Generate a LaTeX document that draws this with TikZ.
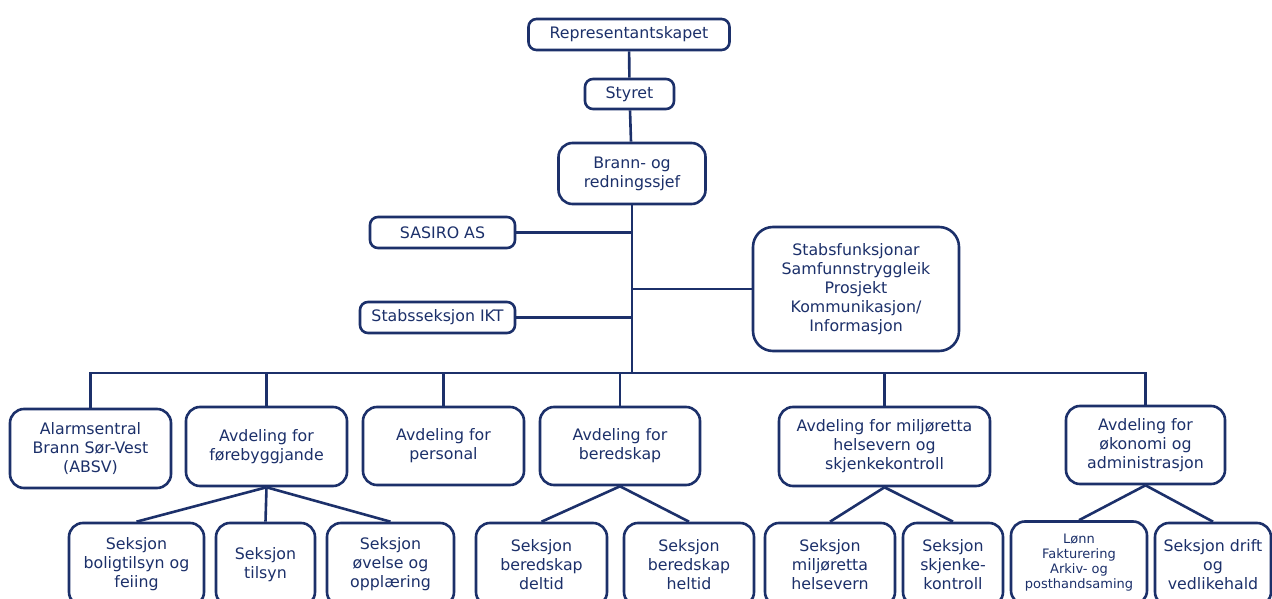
\documentclass[tikz,border=0pt]{standalone}
\usepackage{fontspec}
\setmainfont{DejaVu Sans}
\definecolor{navy}{RGB}{28,48,106}
\begin{document}
\begin{tikzpicture}[x=1pt,y=-1pt,
  box/.style={draw=navy, line width=2.6pt, rounded corners=8pt, text=navy, align=center,
    font=\fontsize{15.8}{19}\selectfont, inner sep=0pt, fill=white},
  big/.style={rounded corners=14pt},
  link/.style={draw=navy, line width=2.6pt}]
\clip (0,0) rectangle (1272,599);
\fill[white] (0,0) rectangle (1272,599);
% top chain
\node[box, minimum width=201pt, minimum height=31pt] (rep) at (629,34.5) {Representantskapet};
\node[box, minimum width=89pt, minimum height=30pt] (sty) at (629.5,94) {Styret};
\node[box, big, minimum width=147pt, minimum height=61pt] (bra) at (632,173.5) {Brann- og\\redningssjef};
\node[box, minimum width=145pt, minimum height=31pt] (sas) at (442.5,232.5) {SASIRO AS};
\node[box, minimum width=155pt, minimum height=31pt] (ikt) at (437.5,317.5) {Stabsseksjon IKT};
\node[box, rounded corners=20pt, minimum width=206pt, minimum height=124pt] (stb) at (856,289)
  {Stabsfunksjonar\\Samfunnstryggleik\\Prosjekt\\Kommunikasjon/\\Informasjon};
\coordinate (bus) at (632,373);
% level 2
\node[box, big, minimum width=161pt, minimum height=79pt] (ala) at (90.5,448.5) {Alarmsentral\\Brann Sør-Vest\\(ABSV)};
\node[box, big, minimum width=161pt, minimum height=79pt] (for) at (266.5,446.5) {Avdeling for\\førebyggjande};
\node[box, big, minimum width=161pt, minimum height=78pt] (per) at (443.5,446) {Avdeling for\\personal};
\node[box, big, minimum width=160pt, minimum height=78pt] (ber) at (620,446) {Avdeling for\\beredskap};
\node[box, big, minimum width=211pt, minimum height=79pt] (mil) at (884.5,446.5) {Avdeling for miljøretta\\helsevern og\\skjenkekontroll};
\node[box, big, minimum width=159pt, minimum height=78pt] (oko) at (1145.5,445) {Avdeling for\\økonomi og\\administrasjon};
% level 3
\node[box, big, minimum width=135pt, minimum height=83pt] (bol) at (136.5,564.5) {Seksjon\\boligtilsyn og\\feiing};
\node[box, big, minimum width=99pt, minimum height=83pt] (til) at (265.5,564.5) {Seksjon\\tilsyn};
\node[box, big, minimum width=127pt, minimum height=83pt] (ove) at (390.5,564.5) {Seksjon\\øvelse og\\opplæring};
\node[box, big, minimum width=131pt, minimum height=83pt] (del) at (541.5,564.5) {Seksjon\\beredskap\\deltid};
\node[box, big, minimum width=130pt, minimum height=83pt] (hel) at (689,564.5) {Seksjon\\beredskap\\heltid};
\node[box, big, minimum width=130pt, minimum height=83pt] (mhv) at (830,564.5) {Seksjon\\miljøretta\\helsevern};
\node[box, big, minimum width=100pt, minimum height=83pt] (skj) at (953,564.5) {Seksjon\\skjenke-\\kontroll};
\node[box, big, minimum width=136pt, minimum height=83pt, font=\fontsize{13}{15}\selectfont] (lon) at (1079,563) {Lønn\\Fakturering\\Arkiv- og\\posthandsaming};
\node[box, big, minimum width=116pt, minimum height=83pt] (dri) at (1213,564.5) {Seksjon drift\\og\\vedlikehald};
% connectors
\draw[link] (rep) -- (sty);
\draw[link] (sty) -- (bra);
\draw[link] (bra.south) -- (bus);
\draw[link] (sas.east) -- (sas.east -| bus);
\draw[link] (ikt.east) -- (ikt.east -| bus);
\draw[link] (stb.west) -- (stb.west -| bus);
\draw[link] (ala.north) |- (bus) -| (oko.north);
\foreach \n in {for,per,ber,mil} \draw[link] (\n.north) -- (\n.north |- bus);
\foreach \p/\c in {for/bol,for/til,for/ove,ber/del,ber/hel,mil/mhv,mil/skj,oko/lon,oko/dri}
  \draw[link] (\p.south) -- (\c.north);
\end{tikzpicture}
\end{document}
